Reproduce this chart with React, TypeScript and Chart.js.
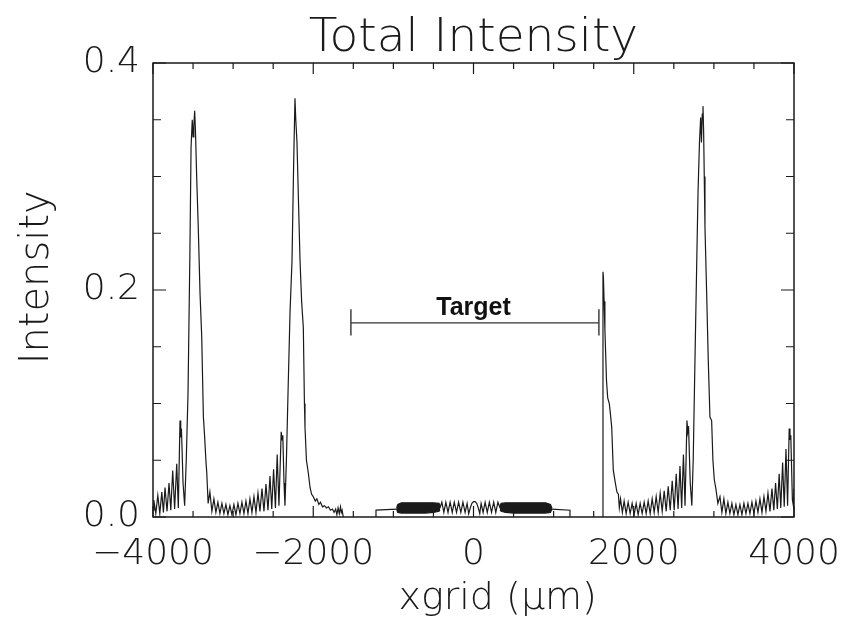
import React, { useEffect, useRef } from 'react';
import { Chart, registerables } from 'chart.js';

Chart.register(...registerables);

// ---------- text ----------
const chartTitle = 'Total Intensity';
const xAxisTitle = '    xgrid (µm)';
const yAxisTitle = '  Intensity';
const targetLabel = 'Target';

// ---------- axes ----------
const xMin = -4000;
const xMax = 4000;
const xMajorStep = 2000;
const xMinorStep = 500;
const yMin = 0;
const yMax = 0.4;
const yMajorStep = 0.2;
const yMinorStep = 0.05;

// ---------- target marker (data units) ----------
const targetStart = -1530;
const targetEnd = 1565;
const targetLevel = 0.171;
const targetCapTop = 0.183;
const targetCapBottom = 0.16;
const targetLabelX = 0;
const targetLabelY = 0.178;

// ---------- left pair of peaks ----------
const leftX = [
  -4000, -3990, -3965, -3940, -3915, -3890, -3870, -3850, -3825, -3800, -3778, -3754, -3730, -3704, -3684,
  -3663, -3654, -3645, -3625, -3605, -3585, -3563, -3540, -3525, -3510, -3500, -3490, -3480, -3470, -3455,
  -3435, -3413, -3392, -3371, -3355, -3340, -3329, -3312, -3290, -3265, -3240, -3215, -3190, -3165, -3140,
  -3115, -3090, -3065, -3040, -3015, -2990, -2965, -2940, -2915, -2890, -2865, -2840, -2815, -2790, -2765,
  -2740, -2715, -2690, -2665, -2640, -2615, -2590, -2565, -2540, -2518, -2495, -2472, -2450, -2428, -2400,
  -2390, -2380, -2365, -2353, -2335, -2315, -2290, -2265, -2245, -2228, -2218, -2203, -2185, -2165, -2145,
  -2124, -2110, -2103, -2085, -2062, -2040, -2020, -2000, -1975, -1955, -1930, -1910, -1885, -1860, -1835,
  -1810, -1785, -1760, -1740, -1720, -1705, -1690, -1675, -1660, -1650, -1640, -1625,
];
const leftY = [
  0.006, 0.015, 0.003, 0.019, 0.003, 0.022, 0.004, 0.026, 0.005, 0.03, 0.006, 0.041, 0.007, 0.047, 0.008,
  0.085, 0.07, 0.078, 0.03, 0.01, 0.05, 0.109, 0.23, 0.326, 0.35, 0.335, 0.345, 0.358, 0.34, 0.3,
  0.255, 0.197, 0.159, 0.088, 0.07, 0.05, 0.039, 0.012, 0.022, 0.005, 0.016, 0.004, 0.013, 0.003, 0.012,
  0.003, 0.011, 0.002, 0.01, 0.002, 0.011, 0.002, 0.012, 0.003, 0.013, 0.003, 0.014, 0.003, 0.016, 0.004,
  0.018, 0.004, 0.021, 0.005, 0.025, 0.005, 0.029, 0.006, 0.036, 0.007, 0.042, 0.008, 0.055, 0.01, 0.075,
  0.068, 0.072, 0.03, 0.01, 0.05, 0.109, 0.18, 0.226, 0.31, 0.369, 0.35, 0.33, 0.28, 0.226, 0.19,
  0.167, 0.1, 0.079, 0.05, 0.039, 0.026, 0.02, 0.018, 0.014, 0.016, 0.011, 0.013, 0.009, 0.01, 0.008,
  0.009, 0.006, 0.007, 0.004, 0.007, 0.002, 0.008, 0.003, 0.009, 0.004, 0.006, 0,
];

// ---------- central region (plateau + sparse fringes) ----------
const centerX = [
  -1217, -1217, -955, -418, -395, -370, -345, -318, -292, -265, -240, -212, -186, -158, -132, -105, -80, -60,
  -40, -20, 0, 20, 40, 60, 78, 95, 120, 145, 172, 198, 225, 252, 278, 305, 331, 980, 1204, 1204,
];
const centerY = [
  0, 0.006, 0.007, 0.008, 0.013, 0.004, 0.013, 0.004, 0.013, 0.004, 0.013, 0.004, 0.013, 0.004, 0.013, 0.004, 0.012, 0.003,
  0.008, 0.012, 0.0135, 0.0135, 0.012, 0.008, 0.003, 0.012, 0.004, 0.013, 0.004, 0.013, 0.004, 0.013, 0.004, 0.013, 0.008, 0.007, 0.006, 0,
];

// ---------- dense fringe bands (upper / lower envelopes) ----------
const bandLeftX = [-960, -945, -900, -800, -700, -600, -500, -430, -418];
const bandLeftTop = [0.008, 0.011, 0.0125, 0.0125, 0.0125, 0.0125, 0.0125, 0.012, 0.01];
const bandLeftBottom = [0.007, 0.004, 0.0035, 0.0035, 0.0035, 0.0035, 0.004, 0.005, 0.006];
const bandRightX = [331, 345, 400, 500, 600, 700, 800, 900, 960, 980];
const bandRightTop = [0.01, 0.012, 0.0125, 0.0125, 0.0125, 0.0125, 0.0125, 0.0125, 0.011, 0.008];
const bandRightBottom = [0.006, 0.005, 0.004, 0.0035, 0.0035, 0.0035, 0.0035, 0.0035, 0.004, 0.007];

// ---------- right pair of peaks ----------
const rightX = [
  1616, 1616, 1622, 1630, 1640, 1660, 1675, 1695, 1710, 1725, 1745, 1770, 1790, 1808, 1820,
  1835, 1858, 1880, 1905, 1930, 1955, 1980, 2005, 2030, 2055, 2080, 2105, 2130, 2155, 2180,
  2205, 2230, 2255, 2280, 2305, 2330, 2355, 2380, 2405, 2430, 2455, 2480, 2505, 2530, 2553,
  2577, 2598, 2620, 2640, 2664, 2674, 2684, 2705, 2725, 2742, 2764, 2785, 2802, 2820, 2835,
  2845, 2855, 2864, 2872, 2880, 2889, 2910, 2930, 2951, 2972, 2988, 3005, 3025, 3050, 3076,
  3100, 3125, 3150, 3175, 3200, 3225, 3250, 3275, 3300, 3325, 3350, 3375, 3400, 3425, 3450,
  3475, 3500, 3525, 3550, 3575, 3600, 3625, 3650, 3675, 3700, 3725, 3748, 3770, 3792, 3815,
  3835, 3858, 3878, 3900, 3920, 3940, 3950, 3960, 3980, 3992, 4000,
];
const rightY = [
  0, 0.216, 0.21, 0.19, 0.165, 0.12, 0.105, 0.1, 0.09, 0.079, 0.041, 0.03, 0.022, 0.02, 0.008,
  0.016, 0.004, 0.014, 0.003, 0.013, 0.003, 0.012, 0.002, 0.012, 0.002, 0.012, 0.003, 0.013, 0.003, 0.014,
  0.003, 0.016, 0.004, 0.018, 0.004, 0.021, 0.005, 0.023, 0.005, 0.027, 0.006, 0.032, 0.006, 0.038, 0.007,
  0.045, 0.008, 0.055, 0.01, 0.085, 0.075, 0.08, 0.03, 0.01, 0.05, 0.138, 0.22, 0.285, 0.33, 0.352,
  0.33, 0.355, 0.362, 0.34, 0.3, 0.255, 0.197, 0.138, 0.088, 0.085, 0.05, 0.033, 0.025, 0.012, 0.018,
  0.004, 0.016, 0.003, 0.013, 0.003, 0.012, 0.002, 0.011, 0.002, 0.011, 0.002, 0.012, 0.003, 0.012, 0.003,
  0.013, 0.003, 0.014, 0.004, 0.016, 0.004, 0.018, 0.005, 0.021, 0.005, 0.025, 0.006, 0.03, 0.007, 0.038,
  0.008, 0.048, 0.009, 0.06, 0.01, 0.078, 0.068, 0.072, 0.015, 0.01, 0.025,
];

const toPoints = (xs: number[], ys: number[]) => xs.map((x, i) => ({ x, y: ys[i] }));

const INK = '#1a1a1a';
const LIGHT_FONT = "'DejaVu Sans Light', 'DejaVu Sans', sans-serif";

const frameAndMarkers = {
  id: 'frameAndMarkers',
  afterDatasetsDraw(chart: any) {
    const { ctx, chartArea: a, scales } = chart;
    const xs = scales.x;
    const ys = scales.y;
    ctx.save();
    // frame
    ctx.strokeStyle = INK;
    ctx.lineWidth = 1.5;
    ctx.strokeRect(a.left, a.top, a.right - a.left, a.bottom - a.top);
    // inward ticks on all four sides
    ctx.lineWidth = 1.2;
    ctx.beginPath();
    const nx = Math.round((xMax - xMin) / xMinorStep);
    const perMajorX = Math.round(xMajorStep / xMinorStep);
    for (let i = 0; i <= nx; i++) {
      const v = xMin + i * xMinorStep;
      const px = xs.getPixelForValue(v);
      const len = i % perMajorX === 0 ? 11 : 6;
      ctx.moveTo(px, a.bottom);
      ctx.lineTo(px, a.bottom - len);
      ctx.moveTo(px, a.top);
      ctx.lineTo(px, a.top + len);
    }
    const ny = Math.round((yMax - yMin) / yMinorStep);
    const perMajorY = Math.round(yMajorStep / yMinorStep);
    for (let i = 0; i <= ny; i++) {
      const v = yMin + i * yMinorStep;
      const py = ys.getPixelForValue(v);
      const len = i % perMajorY === 0 ? 13 : 8;
      ctx.moveTo(a.left, py);
      ctx.lineTo(a.left + len, py);
      ctx.moveTo(a.right, py);
      ctx.lineTo(a.right - len, py);
    }
    ctx.stroke();

    // target marker
    const x1 = xs.getPixelForValue(targetStart);
    const x2 = xs.getPixelForValue(targetEnd);
    const yl = ys.getPixelForValue(targetLevel);
    const yt = ys.getPixelForValue(targetCapTop);
    const yb = ys.getPixelForValue(targetCapBottom);
    ctx.lineWidth = 1.4;
    ctx.strokeStyle = '#333';
    ctx.beginPath();
    ctx.moveTo(x1, yl);
    ctx.lineTo(x2, yl);
    ctx.moveTo(x1, yt);
    ctx.lineTo(x1, yb);
    ctx.moveTo(x2, yt);
    ctx.lineTo(x2, yb);
    ctx.stroke();
    ctx.fillStyle = '#111';
    ctx.font = "bold 25px 'Liberation Sans', Arial, sans-serif";
    ctx.textAlign = 'center';
    ctx.textBaseline = 'alphabetic';
    ctx.fillText(targetLabel, xs.getPixelForValue(targetLabelX), ys.getPixelForValue(targetLabelY));
    ctx.restore();
  },
};

const lineDs = (xs: number[], ys: number[]) => ({
  data: toPoints(xs, ys),
  borderColor: INK,
  borderWidth: 1.2,
  pointRadius: 0,
  tension: 0,
  fill: false,
});

export default function App() {
  const ref = useRef<HTMLCanvasElement | null>(null);
  useEffect(() => {
    if (!ref.current) return;
    const chart = new Chart(ref.current, {
      type: 'line',
      data: {
        datasets: [
          lineDs(leftX, leftY),
          lineDs(centerX, centerY),
          lineDs(rightX, rightY),
          { ...lineDs(bandLeftX, bandLeftTop) },
          { ...lineDs(bandLeftX, bandLeftBottom), fill: '-1', backgroundColor: INK },
          { ...lineDs(bandRightX, bandRightTop) },
          { ...lineDs(bandRightX, bandRightBottom), fill: '-1', backgroundColor: INK },
        ] as any,
      },
      options: {
        responsive: false,
        animation: false,
        events: [],
        layout: { padding: { left: 0, right: 51, top: 0, bottom: 0 } },
        plugins: {
          legend: { display: false },
          tooltip: { enabled: false },
          title: {
            display: true,
            text: chartTitle,
            fullSize: false,
            color: INK,
            font: { family: LIGHT_FONT, size: 47, weight: '200' as any, lineHeight: 1.0 },
            padding: { top: 15, bottom: 1 },
          },
        },
        scales: {
          x: {
            type: 'linear',
            min: xMin,
            max: xMax,
            grid: { display: false, drawTicks: false },
            border: { display: false },
            ticks: {
              stepSize: xMajorStep,
              color: INK,
              padding: 16,
              maxRotation: 0,
              font: { family: LIGHT_FONT, size: 36, weight: '200' as any },
              callback: (v: any) => (v < 0 ? '\u2212' + Math.abs(v) : String(v)),
            },
            title: {
              display: true,
              text: xAxisTitle,
              color: INK,
              font: { family: LIGHT_FONT, size: 38, weight: '200' as any },
              padding: { top: 0, bottom: 1 },
            },
            afterFit: (s: any) => {
              s.height = 106;
              s.paddingLeft = 0;
              s.paddingRight = 0;
            },
          },
          y: {
            type: 'linear',
            min: yMin,
            max: yMax,
            grid: { display: false, drawTicks: false },
            border: { display: false },
            ticks: {
              stepSize: yMajorStep,
              color: INK,
              padding: 13,
              font: { family: LIGHT_FONT, size: 36, weight: '200' as any },
              callback: (v: any) => Number(v).toFixed(1),
            },
            title: {
              display: true,
              text: yAxisTitle,
              color: INK,
              font: { family: LIGHT_FONT, size: 40, weight: '200' as any },
              padding: { top: 14, bottom: 0 },
            },
            afterFit: (s: any) => {
              s.width = 153;
              s.paddingTop = 0;
              s.paddingBottom = 0;
            },
          },
        },
      },
      plugins: [frameAndMarkers],
    });
    return () => chart.destroy();
  }, []);

  return (
    <div style={{ position: 'absolute', left: 0, top: 0, width: 845, height: 623, background: '#fff' }}>
      <canvas ref={ref} width={845} height={623} style={{ display: 'block' }} />
    </div>
  );
}
